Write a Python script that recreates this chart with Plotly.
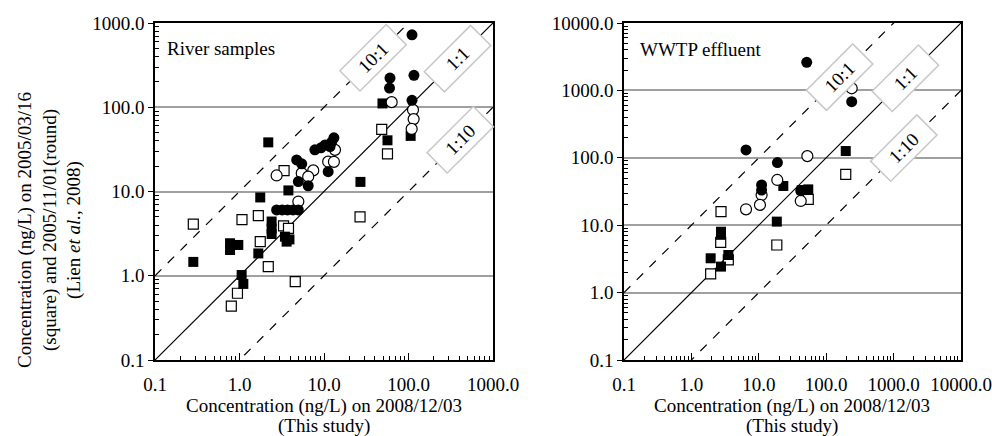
import math
import plotly.graph_objects as go

# ---------------- data ----------------
# Left panel: River samples
river_fc_x = [110, 60.4, 59.6, 116, 110, 13.1, 11.8, 10.3, 7.8, 9.2, 12.3, 4.75, 5.45, 11.2, 4.97, 6.5, 2.75, 3.2, 3.7, 4.3, 4.97]
river_fc_y = [724, 222, 169, 239, 121, 43.4, 34.1, 35.7, 31.2, 33, 38.5, 23.7, 21.3, 17.2, 13.1, 11.7, 6.04, 6.04, 6.04, 6.04, 6.04]
river_oc_x = [63.2, 113, 115, 109, 11.2, 13.1, 5.45, 7.46, 6.5, 2.75, 4.97, 13.5]
river_oc_y = [115, 93, 72.3, 55.3, 22.6, 22.5, 16.5, 17.8, 15, 15.5, 7.6, 31.2]
river_fs_x = [49.2, 106, 56.4, 2.19, 3.79, 27, 1.76, 2.4, 2.4, 2.4, 3.45, 3.61, 3.9, 0.773, 0.968, 0.773, 1.67, 0.284, 1.06, 1.11]
river_fs_y = [111, 45.7, 40.5, 38.3, 10.3, 13, 8.5, 4.4, 3.63, 3.13, 2.91, 2.54, 2.7, 2.43, 2.32, 2.02, 1.84, 1.46, 1.02, 0.80]
river_os_x = [48.2, 56.4, 3.37, 0.284, 1.07, 1.67, 3.32, 3.8, 1.76, 2.19, 26.7, 4.57, 0.946, 0.80]
river_os_y = [54.7, 28, 17.7, 4.1, 4.64, 5.16, 3.9, 3.66, 2.54, 1.28, 4.99, 0.851, 0.62, 0.435]

# Right panel: WWTP effluent
wwtp_fc_x = [51.4, 239, 6.46, 18.9, 11.0, 11.0, 41.9]
wwtp_fc_y = [2610, 679, 131, 85, 39.5, 33.2, 32.5]
wwtp_oc_x = [239, 52.5, 18.8, 11.0, 10.4, 6.46, 41.9]
wwtp_oc_y = [1074, 106, 46.9, 28.1, 20, 17.2, 22.9]
wwtp_fs_x = [195, 23.1, 43.3, 54.2, 18.5, 2.75, 2.75, 3.53, 1.93, 2.75]
wwtp_fs_y = [126, 38.2, 33.2, 34, 11.3, 8.0, 7.2, 3.61, 3.23, 2.43]
wwtp_os_x = [195, 54.2, 2.75, 2.72, 18.5, 3.53, 1.93]
wwtp_os_y = [56.9, 24.2, 15.9, 5.57, 5.08, 3.05, 1.89]

# Reference ratio lines
ratio_names = ["10:1", "1:1", "1:10"]
ratio_values = [10, 1, 0.1]
ratio_dash = ["dash", "solid", "dash"]
line_x_left = [0.1, 1000]
line_x_right = [0.1, 10000]

left_ticks = [0.1, 1, 10, 100, 1000]
left_ticktext = ["0.1", "1.0", "10.0", "100.0", "1000.0"]
right_ticks = [0.1, 1, 10, 100, 1000, 10000]
right_ticktext = ["0.1", "1.0", "10.0", "100.0", "1000.0", "10000.0"]

# label positions along the lines (log10 x)
left_label_lx = [1.58, 2.575, 2.61]
right_label_lx = [2.2, 3.18, 3.15]

FONT = "Liberation Serif, Times New Roman, serif"
W, H = 992, 436

fig = go.Figure()

def add_panel(xa, ya, fc, oc, fs, os_, line_x):
    for r, d in zip(ratio_values, ratio_dash):
        fig.add_trace(go.Scatter(x=line_x, y=[v * r for v in line_x], mode="lines",
                                 line=dict(color="black", width=1.2, dash=d),
                                 xaxis=xa, yaxis=ya, showlegend=False, hoverinfo="skip"))
    fig.add_trace(go.Scatter(x=os_[0], y=os_[1], mode="markers", xaxis=xa, yaxis=ya, showlegend=False,
                             marker=dict(symbol="square", size=10, color="white", line=dict(color="black", width=1.2))))
    fig.add_trace(go.Scatter(x=fs[0], y=fs[1], mode="markers", xaxis=xa, yaxis=ya, showlegend=False,
                             marker=dict(symbol="square", size=10, color="black", line=dict(color="black", width=0))))
    fig.add_trace(go.Scatter(x=oc[0], y=oc[1], mode="markers", xaxis=xa, yaxis=ya, showlegend=False,
                             marker=dict(symbol="circle", size=11, color="white", line=dict(color="black", width=1.2))))
    fig.add_trace(go.Scatter(x=fc[0], y=fc[1], mode="markers", xaxis=xa, yaxis=ya, showlegend=False,
                             marker=dict(symbol="circle", size=11, color="black", line=dict(color="black", width=0))))

add_panel("x", "y", (river_fc_x, river_fc_y), (river_oc_x, river_oc_y),
          (river_fs_x, river_fs_y), (river_os_x, river_os_y), line_x_left)
add_panel("x2", "y2", (wwtp_fc_x, wwtp_fc_y), (wwtp_oc_x, wwtp_oc_y),
          (wwtp_fs_x, wwtp_fs_y), (wwtp_os_x, wwtp_os_y), line_x_right)

def minor_vals(lo, hi):
    vals = []
    d = lo
    while d < hi:
        for k in range(2, 10):
            vals.append(round(d * k, 6))
        d *= 10
    return vals

def axis_common(tickvals, ticktext, rng, is_x, dom):
    a = dict(type="log", range=rng, domain=dom, tickmode="array", tickvals=tickvals, ticktext=ticktext,
             automargin=False, showline=True, linecolor="black", linewidth=1.5, mirror=True,
             tickfont=dict(family=FONT, size=19, color="black"),
             tickcolor="black", tickwidth=1.2, zeroline=False)
    if is_x:
        a.update(showgrid=False, ticks="inside", ticklen=7, ticklabelstandoff=6,
                 minor=dict(tickmode="array", tickvals=minor_vals(tickvals[0], tickvals[-1]),
                            ticks="inside", ticklen=4, tickcolor="black", tickwidth=1, showgrid=False))
    else:
        a.update(showgrid=True, gridcolor="#a0a0a0", gridwidth=1.5, ticks="outside", ticklen=5,
                 minor=dict(tickmode="array", tickvals=minor_vals(tickvals[0], tickvals[-1]),
                            ticks="inside", ticklen=4, tickcolor="black", tickwidth=1, showgrid=False))
    return a

ydom = [1 - 360 / H, 1 - 23 / H]
lxdom = [155 / W, 493 / W]
rxdom = [624 / W, 961 / W]

fig.update_layout(
    template="none",
    width=W, height=H, margin=dict(l=0, r=0, t=0, b=0, pad=0, autoexpand=False),
    paper_bgcolor="white", plot_bgcolor="white", showlegend=False,
    xaxis=dict(axis_common(left_ticks, left_ticktext, [-1, 3], True, lxdom), anchor="y"),
    yaxis=dict(axis_common(left_ticks, left_ticktext, [-1, 3], False, ydom), anchor="x"),
    xaxis2=dict(axis_common(right_ticks, right_ticktext, [-1, 4], True, rxdom), anchor="y2"),
    yaxis2=dict(axis_common(right_ticks, right_ticktext, [-1, 4], False, ydom), anchor="x2"),
)

anns = []
for name, r, lx in zip(ratio_names, ratio_values, left_label_lx):
    anns.append(dict(x=lx, y=lx + math.log10(r), xref="x", yref="y", text=name, showarrow=False,
                     textangle=-45, font=dict(family=FONT, size=19, color="black"),
                     bgcolor="white", bordercolor="#c8c8c8", borderwidth=1.5, width=62, height=25, borderpad=1))
for name, r, lx in zip(ratio_names, ratio_values, right_label_lx):
    anns.append(dict(x=lx, y=lx + math.log10(r), xref="x2", yref="y2", text=name, showarrow=False,
                     textangle=-45, font=dict(family=FONT, size=19, color="black"),
                     bgcolor="white", bordercolor="#c8c8c8", borderwidth=1.5, width=62, height=25, borderpad=1))

anns.append(dict(x=165 / W, y=1 - 48 / H, xref="paper", yref="paper", xanchor="left", yanchor="middle",
                 text="River samples", showarrow=False, font=dict(family=FONT, size=19, color="black")))
anns.append(dict(x=638 / W, y=1 - 49 / H, xref="paper", yref="paper", xanchor="left", yanchor="middle",
                 text="WWTP effluent", showarrow=False, font=dict(family=FONT, size=19, color="black")))

xtitle_lines = ["Concentration (ng/L) on 2008/12/03", "(This study)"]
xtitle_y = [406, 426]
for cx in (324, 792):
    for t, yy in zip(xtitle_lines, xtitle_y):
        anns.append(dict(x=cx / W, y=1 - yy / H, xref="paper", yref="paper", xanchor="center", yanchor="middle",
                         text=t, showarrow=False, font=dict(family=FONT, size=19, color="black")))

ytitle = "Concentration (ng/L) on 2005/03/16<br>(square) and 2005/11/01(round)<br>(Lien <i>et al.</i>, 2008)"
anns.append(dict(x=50 / W, y=1 - 230 / H, xref="paper", yref="paper", xanchor="center", yanchor="middle",
                 text=ytitle, showarrow=False, textangle=-90, font=dict(family=FONT, size=19, color="black")))

fig.update_layout(annotations=anns)
fig.write_html("out.html", config={"displayModeBar": False},
               post_script="document.body.style.margin='0px';document.body.style.overflow='hidden';")
